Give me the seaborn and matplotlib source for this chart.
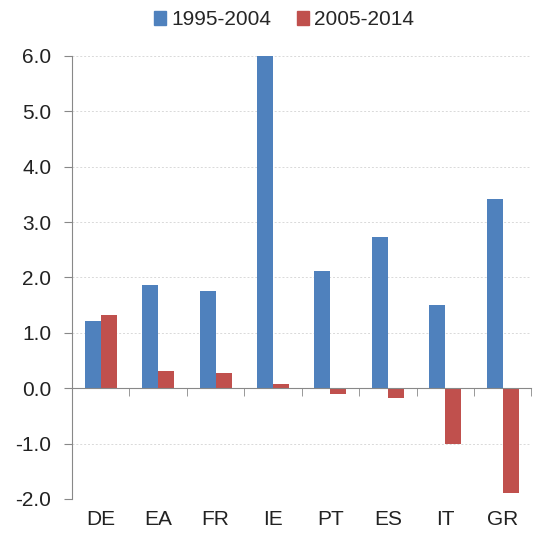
import pandas as pd
import numpy as np
import matplotlib
matplotlib.use("Agg")
import matplotlib.pyplot as plt
import seaborn as sns
from matplotlib.ticker import FixedLocator, MultipleLocator

countries = ["DE", "EA", "FR", "IE", "PT", "ES", "IT", "GR"]
periods = ["1995-2004", "2005-2014"]
growth_1995_2004 = [1.21, 1.87, 1.75, 6.0, 2.11, 2.73, 1.51, 3.42]
growth_2005_2014 = [1.33, 0.31, 0.28, 0.08, -0.10, -0.17, -1.01, -1.90]
colors = ["#4F81BD", "#C0504D"]
y_ticks = [-2.0, -1.0, 0.0, 1.0, 2.0, 3.0, 4.0, 5.0, 6.0]


def build_frame():
    rows = []
    for i, c in enumerate(countries):
        rows.append({"country": c, "period": periods[0], "value": growth_1995_2004[i]})
        rows.append({"country": c, "period": periods[1], "value": growth_2005_2014[i]})
    return pd.DataFrame(rows)


def main():
    sns.set_style("white")
    plt.rcParams['font.family'] = ['Liberation Sans', 'DejaVu Sans']
    df = build_frame()

    fig = plt.figure(figsize=(5.34, 5.37), dpi=100)
    ax = fig.add_axes([0.135, 0.0708, 0.86, 0.825])

    sns.barplot(data=df, x="country", y="value", hue="period", order=countries,
                hue_order=periods, palette=colors, width=0.56, saturation=1,
                edgecolor="none", ax=ax)

    ax.set_ylim(y_ticks[0], y_ticks[-1])
    ax.set_xlim(-0.5, len(countries) - 0.5)
    ax.yaxis.set_major_locator(FixedLocator(y_ticks))
    ax.set_yticklabels([f"{v:.1f}" for v in y_ticks])
    # faint dashed grid like the spreadsheet original
    for v in y_ticks:
        if v != 0:
            ax.axhline(v, color="#d9d9d9", lw=0.7, ls=(0, (2, 2)), zorder=0)

    for s in ["top", "right"]:
        ax.spines[s].set_visible(False)
    ax.spines["left"].set_color("#888888")
    ax.spines["bottom"].set_color("#888888")
    ax.spines["bottom"].set_position(("data", 0))
    ax.tick_params(axis="y", which="major", length=6, color="#888888",
                   labelsize=15, labelcolor="#222222", pad=9, left=True)

    ax.xaxis.set_minor_locator(MultipleLocator(1, offset=0.5))
    ax.tick_params(axis="x", which="major", length=0, labelbottom=False)
    ax.tick_params(axis="x", which="minor", length=6, color="#888888", bottom=True, direction="out")
    ax.set_xlabel("")
    ax.set_ylabel("")

    sec = ax.secondary_xaxis("bottom")
    sec.set_xticks(range(len(countries)))
    sec.set_xticklabels(countries)
    sec.spines["bottom"].set_visible(False)
    sec.tick_params(length=0, labelsize=15, labelcolor="#222222", pad=8)

    ax.legend_.remove()
    handles = [plt.Rectangle((0, 0), 1, 1, color=c) for c in colors]
    fig.legend(handles, periods, loc="center", bbox_to_anchor=(0.532, 0.963), ncol=2,
               frameon=False, fontsize=15, handlelength=0.6, handleheight=0.6,
               handletextpad=0.25, columnspacing=1.2)

    fig.savefig("out.png", dpi=100)


if __name__ == "__main__":
    main()
